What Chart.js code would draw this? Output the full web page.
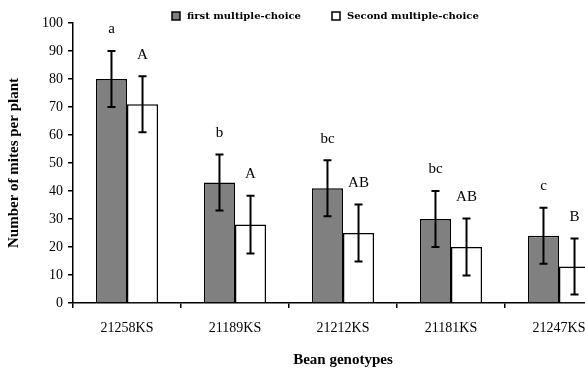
<!DOCTYPE html>
<html lang="en">
<head>
  <meta charset="UTF-8">
  <title>Mites per plant by bean genotype</title>
  <script src="https://cdn.jsdelivr.net/npm/chart.js"></script>
  <style>
    html, body { margin: 0; padding: 0; background: #fff; overflow: hidden; }
    canvas { display: block; }
  </style>
</head>
<body>
  <canvas id="mitesChart" width="625" height="369"></canvas>

  <script>
    // data
    const genotypes = ['21258KS', '21189KS', '21212KS', '21181KS', '21247KS'];
    const firstChoice = [80, 43, 41, 30, 24];
    const firstErr = [10, 10, 10, 10, 10];
    const secondChoice = [71, 28, 25, 20, 13];
    const secondErr = [10, 10.3, 10.2, 10.2, 10];
    const firstLetters = ['a', 'b', 'bc', 'bc', 'c'];
    const secondLetters = ['A', 'A', 'AB', 'AB', 'B'];

    const serif = '"Liberation Serif", "DejaVu Serif", serif';

    // error bars + significance letters
    const errorBars = {
      id: 'errorBars',
      afterDatasetsDraw(chart) {
        const ctx = chart.ctx;
        const y = chart.scales.y;
        const errs = [firstErr, secondErr];
        const letters = [firstLetters, secondLetters];
        ctx.save();
        chart.data.datasets.forEach((ds, i) => {
          const meta = chart.getDatasetMeta(i);
          meta.data.forEach((bar, j) => {
            const v = ds.data[j], e = errs[i][j];
            const top = y.getPixelForValue(v + e);
            const bot = y.getPixelForValue(v - e);
            ctx.strokeStyle = '#000';
            ctx.lineWidth = 2;
            ctx.beginPath();
            ctx.moveTo(bar.x, top); ctx.lineTo(bar.x, bot);
            ctx.moveTo(bar.x - 4, top); ctx.lineTo(bar.x + 4, top);
            ctx.moveTo(bar.x - 4, bot); ctx.lineTo(bar.x + 4, bot);
            ctx.stroke();
            ctx.fillStyle = '#000';
            ctx.font = '15px ' + serif;
            ctx.textAlign = 'center';
            ctx.textBaseline = 'bottom';
            ctx.fillText(letters[i][j], bar.x, top - 14);
          });
        });
        ctx.restore();
      }
    };

    // legend drawn by hand to keep the wide spacing of the original
    const topLegend = {
      id: 'topLegend',
      afterDraw(chart) {
        const ctx = chart.ctx;
        const items = [
          { x: 172, ds: chart.data.datasets[0] },
          { x: 332, ds: chart.data.datasets[1] }
        ];
        ctx.save();
        ctx.font = 'bold 10px "DejaVu Serif", serif';
        ctx.textBaseline = 'middle';
        ctx.textAlign = 'left';
        items.forEach(it => {
          ctx.fillStyle = it.ds.backgroundColor;
          ctx.fillRect(it.x, 12, 8, 8);
          ctx.strokeStyle = '#000';
          ctx.lineWidth = 1.5;
          ctx.strokeRect(it.x, 12, 8, 8);
          ctx.fillStyle = '#000';
          ctx.fillText(it.ds.label, it.x + 15, 16);
        });
        ctx.restore();
      }
    };

    const ctx = document.getElementById('mitesChart').getContext('2d');
    const chart = new Chart(ctx, {
      type: 'bar',
      data: {
        labels: genotypes,
        datasets: [{
          label: 'first multiple-choice',
          data: firstChoice,
          backgroundColor: '#808080',
          borderColor: '#000',
          borderWidth: 1.5,
          categoryPercentage: 0.575,
          barPercentage: 1.0
        }, {
          label: 'Second multiple-choice',
          data: secondChoice,
          backgroundColor: '#ffffff',
          borderColor: '#000',
          borderWidth: 1.5,
          categoryPercentage: 0.575,
          barPercentage: 1.0
        }]
      },
      options: {
        responsive: false,
        animation: false,
        devicePixelRatio: 1,
        layout: { padding: { top: 23, right: 12, left: 0, bottom: 0 } },
        plugins: {
          legend: { display: false },
          tooltip: { enabled: false }
        },
        scales: {
          x: {
            afterFit: s => { s.height = 66; },
            border: { color: '#000', width: 1.5 },
            grid: { drawOnChartArea: false, color: '#000', tickLength: 5, lineWidth: 1.5 },
            ticks: { color: '#000', font: { family: serif, size: 14 }, padding: 12, maxRotation: 0 },
            title: {
              display: true, text: 'Bean genotypes', color: '#000',
              font: { family: serif, size: 15, weight: 'bold' },
              padding: { top: 3, bottom: 0 }
            }
          },
          y: {
            min: 0, max: 100,
            afterFit: s => { s.width = 73; },
            border: { color: '#000', width: 1.5 },
            grid: { drawOnChartArea: false, color: '#000', tickLength: 5, lineWidth: 1.5 },
            ticks: { stepSize: 10, color: '#000', font: { family: serif, size: 14 }, padding: 5 },
            title: {
              display: true, text: 'Number of mites per plant', color: '#000',
              font: { family: serif, size: 15, weight: 'bold' },
              padding: { top: 5, bottom: 0 }
            }
          }
        }
      },
      plugins: [errorBars, topLegend]
    });
  </script>
</body>
</html>
